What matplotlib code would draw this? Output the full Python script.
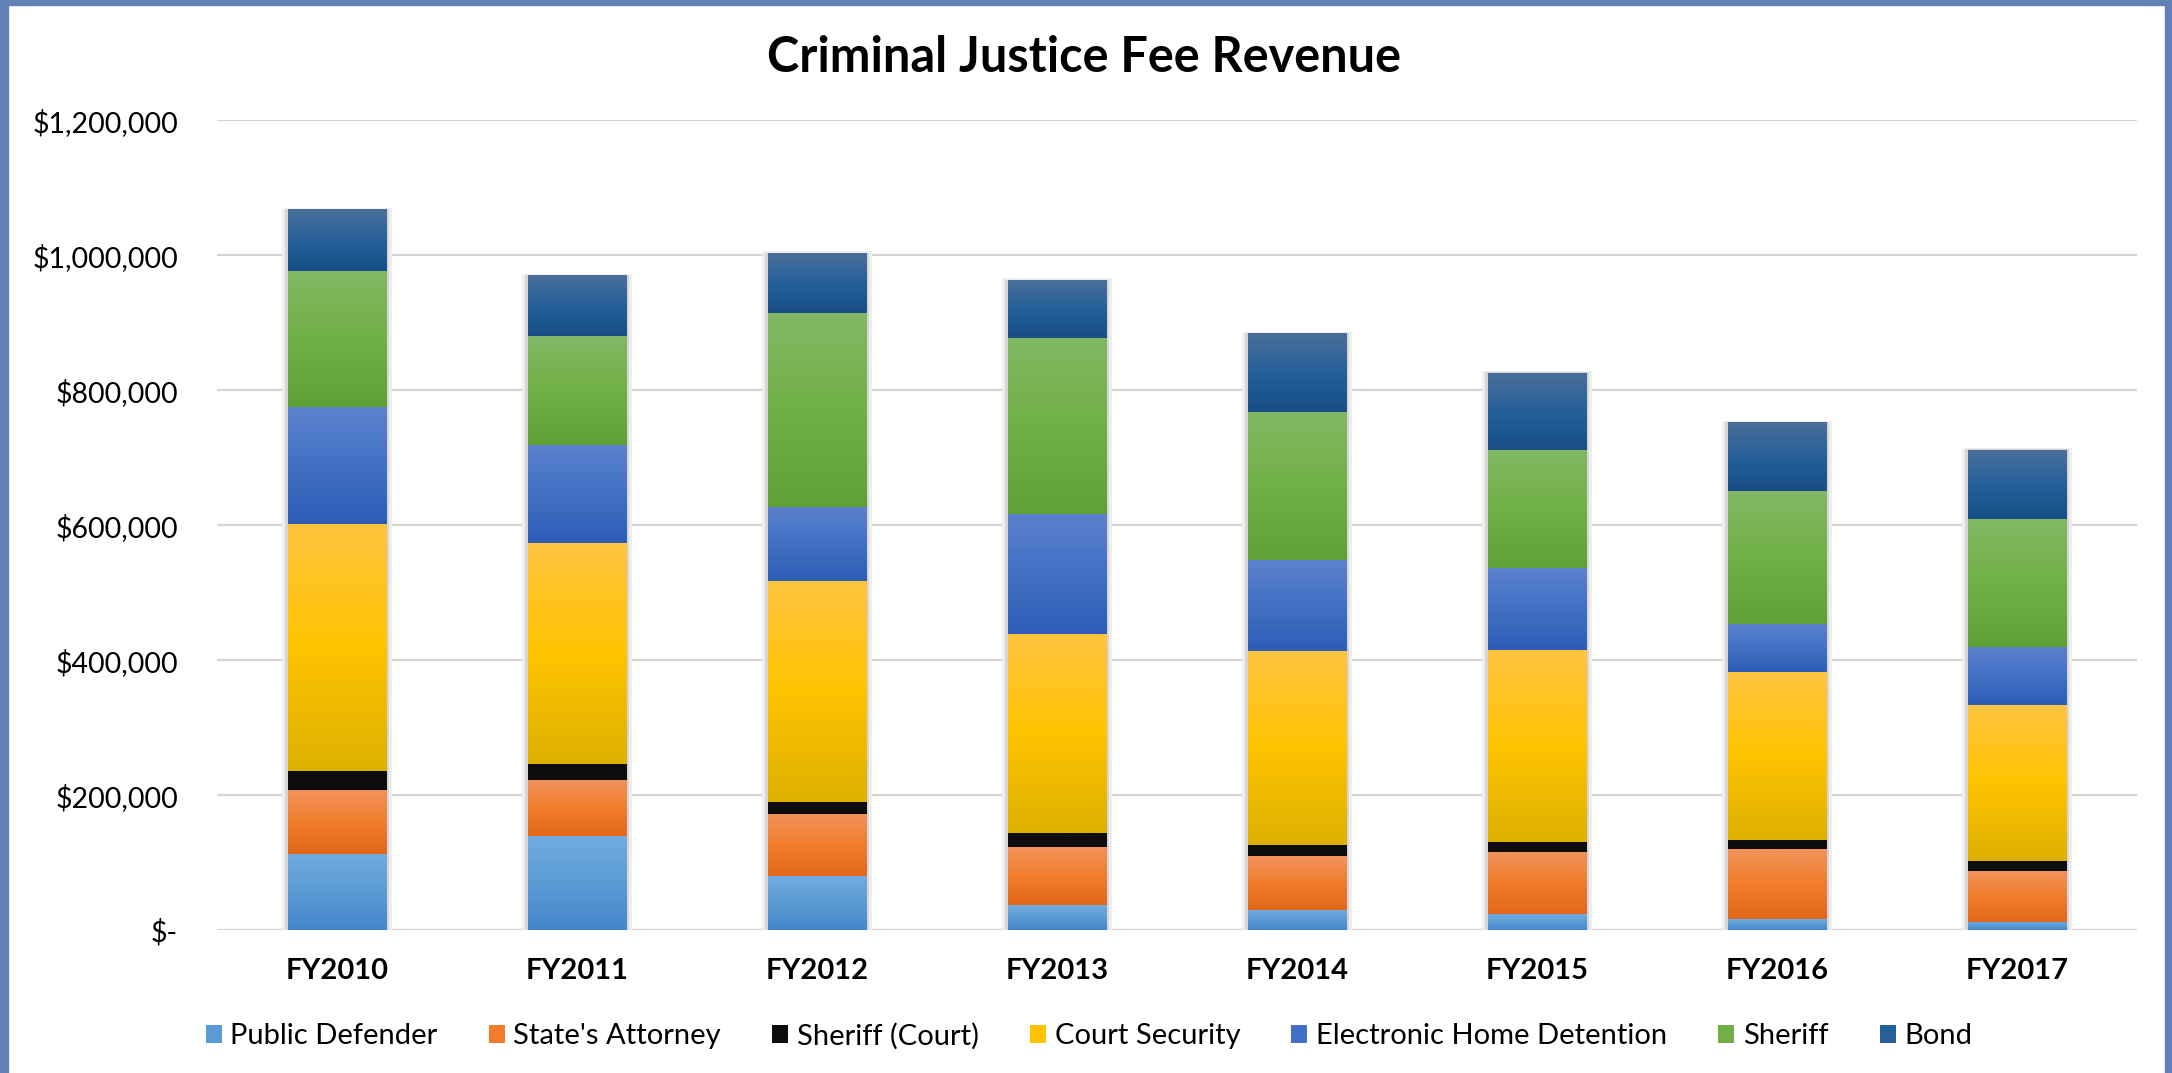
import matplotlib
matplotlib.use("Agg")
import matplotlib.pyplot as plt
import numpy as np
from matplotlib.colors import LinearSegmentedColormap
from matplotlib.patches import Patch, Rectangle
from matplotlib.ticker import FuncFormatter

years = ["FY2010", "FY2011", "FY2012", "FY2013", "FY2014", "FY2015", "FY2016", "FY2017"]
series_names = ["Public Defender", "State's Attorney", "Sheriff (Court)", "Court Security",
                "Electronic Home Detention", "Sheriff", "Bond"]
public_defender = [113000, 139000, 80000, 37000, 30000, 23000, 17000, 12000]
states_attorney = [94000, 83000, 92000, 86000, 79000, 93000, 103000, 75000]
sheriff_court = [28000, 24000, 18000, 21000, 17000, 15000, 14000, 15000]
court_security = [367000, 327000, 327000, 295000, 288000, 284000, 249000, 231000]
electronic_home_detention = [173000, 146000, 110000, 178000, 134000, 122000, 71000, 87000]
sheriff = [202000, 162000, 288000, 261000, 220000, 175000, 197000, 190000]
bond = [91000, 89000, 88000, 85000, 116000, 114000, 101000, 102000]

data = [public_defender, states_attorney, sheriff_court, court_security,
        electronic_home_detention, sheriff, bond]

# (top, mid, bottom) gradient colours
grads = [
    ("#73abdf", "#5b9bd5", "#4486cb"),
    ("#f1925c", "#f17d2b", "#e2671a"),
    ("#0d0d0d", "#0d0d0d", "#0d0d0d"),
    ("#ffc540", "#ffc300", "#deb000"),
    ("#5c82cd", "#4270c6", "#2d5db5"),
    ("#83b866", "#71b045", "#60a034"),
    ("#4b7099", "#25609a", "#174e87"),
]
base_colors = [g[1] for g in grads]

plt.rcParams['font.family'] = ['Lato', 'DejaVu Sans']

W, H = 2172, 1073
fig = plt.figure(figsize=(W / 100, H / 100), dpi=100)
fig.patch.set_facecolor("white")

ax_l, ax_r = 217, 2137
ax_top, ax_bot = 120.5, 930
ax = fig.add_axes([ax_l / W, 1 - ax_bot / H, (ax_r - ax_l) / W, (ax_bot - ax_top) / H])

x = np.arange(len(years))
width = 0.41
totals = np.sum(np.array(data), axis=0)

# soft shadow behind stacks
ax.bar(x, totals + 6000, width=width + 0.05, bottom=-3000, color="#eeeeee", zorder=1.5)
ax.bar(x, totals + 2000, width=width + 0.02, bottom=-1000, color="#d6d6d6", zorder=1.6)

bottom = np.zeros(len(years))
grad_img = np.linspace(0, 1, 256).reshape(-1, 1)
for vals, (ctop, cmid, cbot), name in zip(data, grads, series_names):
    bars = ax.bar(x, vals, width=width, bottom=bottom, color=cmid, zorder=2, label=name)
    cmap = LinearSegmentedColormap.from_list(name, [cbot, cmid, ctop])
    for p in bars:
        x0, y0, w, h = p.get_x(), p.get_y(), p.get_width(), p.get_height()
        ax.imshow(grad_img, extent=[x0, x0 + w, y0, y0 + h], origin="lower",
                  aspect="auto", cmap=cmap, interpolation="bilinear", zorder=2.5)
    bottom = bottom + np.array(vals)

ax.set_xlim(-0.5, len(years) - 0.5)
ax.set_ylim(0, 1200000)
ax.set_yticks(np.arange(0, 1200001, 200000))
ax.yaxis.set_major_formatter(FuncFormatter(lambda v, p: "$-" if v == 0 else f"${v:,.0f}"))
ax.set_xticks(x)
ax.set_xticklabels(years, fontweight="bold")
ax.tick_params(axis="y", length=0, pad=28, labelsize=20.5, labelcolor="black")
ax.tick_params(axis="x", length=0, pad=20, labelsize=21, labelcolor="black")
for s in ax.spines.values():
    s.set_visible(False)
ax.yaxis.grid(True, color="#d4d4d4", linewidth=1.6)
ax.set_axisbelow(True)
ax.patch.set_alpha(0)

fig.text(1084 / W, 1 - 57 / H, "Criminal Justice Fee Revenue", ha="center", va="center",
         fontsize=35, fontweight="bold", color="black")

handles = [Patch(facecolor=c, edgecolor="none") for c in base_colors]
fig.legend(handles, series_names, loc="center", bbox_to_anchor=(1089 / W, 1 - 1036 / H),
           ncol=7, frameon=False, fontsize=21, handlelength=0.55, handleheight=0.55,
           handletextpad=0.3, columnspacing=1.75)

# blue frame around the chart
border = "#6280b5"
fig.add_artist(Rectangle((0, 0), 8 / W, 1, transform=fig.transFigure, color=border, zorder=10))
fig.add_artist(Rectangle((0, 1 - 5 / H), 1, 5 / H, transform=fig.transFigure, color=border, zorder=10))
fig.add_artist(Rectangle((1 - 7 / W, 0), 7 / W, 1, transform=fig.transFigure, color=border, zorder=10))

fig.savefig("out.png", dpi=100)
